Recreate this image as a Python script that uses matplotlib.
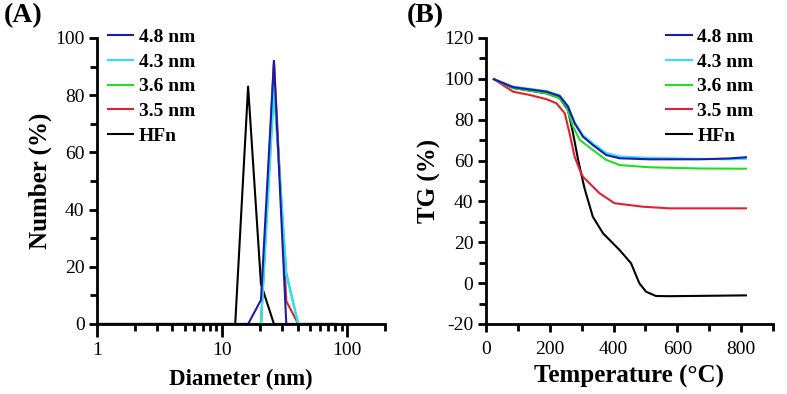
import numpy as np
import matplotlib
matplotlib.use('Agg')
import matplotlib.pyplot as plt
from matplotlib.ticker import MultipleLocator, LogLocator, FuncFormatter, NullFormatter

matplotlib.rcParams.update({'font.family': 'Liberation Serif', 'font.size': 14,
                            'axes.unicode_minus': False})

labels = ['4.8 nm', '4.3 nm', '3.6 nm', '3.5 nm', 'HFn']
colors = ['#1c1ca8', '#30e0ff', '#22dd22', '#e02030', '#000000']

# (A) number distribution, diameter bins (nm)
diam = [1.0, 12.7, 16.1, 20.4, 25.9, 32.5, 40.5, 82.0]
num_48 = [0, 0, 0, 8.4, 92, 0, 0, 0]
num_43 = [0, 0, 0, 0, 83, 17, 0, 0]
num_36 = [0, 0, 0, 0, 82, 18, 0, 0]
num_35 = [0, 0, 0, 0, 92, 8, 0, 0]
num_hfn = [0, 0, 83, 14, 0, 0, 0, 0]

# (B) TGA curves, temperature (C) / weight (%)
t_48 = [25, 85, 190, 231, 257, 278, 304, 335, 377, 419, 512, 669, 760, 815]
tg_48 = [99.8, 95.9, 93.7, 91.6, 86.4, 78.2, 71.7, 67.6, 62.7, 61.1, 60.6, 60.6, 61.0, 61.6]
t_43 = [25, 85, 190, 231, 257, 278, 304, 335, 377, 419, 512, 669, 760, 815]
tg_43 = [99.8, 96.2, 94.0, 91.9, 86.8, 78.8, 72.4, 68.4, 63.7, 62.0, 61.3, 60.8, 60.6, 60.8]
t_36 = [25, 85, 190, 231, 252, 273, 294, 335, 377, 419, 512, 669, 815]
tg_36 = [99.8, 95.5, 92.9, 90.5, 86.4, 76.6, 70.1, 65.2, 60.3, 57.8, 56.7, 56.1, 56.0]
t_35 = [25, 85, 137, 190, 221, 247, 262, 278, 294, 304, 356, 403, 492, 575, 815]
tg_35 = [99.8, 93.7, 92.1, 90.0, 88.0, 83.1, 73.4, 61.9, 55.4, 52.1, 44.0, 39.1, 37.4, 36.6, 36.6]
t_hfn = [25, 85, 190, 231, 257, 273, 289, 309, 335, 367, 419, 455, 481, 502, 533, 575, 815]
tg_hfn = [99.8, 95.5, 92.9, 90.6, 84.8, 73.4, 60.3, 46.4, 32.5, 24.4, 16.2, 9.7, -0.1, -4.2, -6.3, -6.4, -6.0]

fig = plt.figure(figsize=(7.87, 3.94), dpi=100)
ax1 = fig.add_axes([0.1233, 0.1777, 0.366, 0.726])
ax2 = fig.add_axes([0.6175, 0.1777, 0.3647, 0.726])

def style(ax):
    for s in ['top', 'right']:
        ax.spines[s].set_visible(False)
    for s in ['left', 'bottom']:
        ax.spines[s].set_linewidth(2)
    ax.tick_params(which='major', length=6, width=2, labelsize=14, pad=3)
    ax.tick_params(which='minor', length=5, width=2)
    ax.tick_params(axis='x', which='major', pad=6)

# left panel
ys = [num_48, num_43, num_36, num_35, num_hfn]
for i in [4, 3, 2, 1, 0]:
    ax1.plot(diam, ys[i], color=colors[i], lw=1.5, label=labels[i])
ax1.set_xscale('log')
ax1.set_xlim(1, 200)
ax1.set_ylim(0, 100)
ax1.xaxis.set_major_locator(LogLocator(base=10))
ax1.xaxis.set_minor_locator(LogLocator(base=10, subs=np.arange(2, 10)))
ax1.xaxis.set_major_formatter(FuncFormatter(lambda v, p: '%g' % v))
ax1.xaxis.set_minor_formatter(NullFormatter())
ax1.yaxis.set_major_locator(MultipleLocator(20))
ax1.yaxis.set_minor_locator(MultipleLocator(10))
style(ax1)
ax1.tick_params(axis='x', which='major', length=9, pad=4)
ax1.set_xlabel('Diameter (nm)', fontsize=16.5, fontweight='bold', labelpad=7)
ax1.set_ylabel('Number (%)', fontsize=18, fontweight='bold', labelpad=2)
h, l = ax1.get_legend_handles_labels()
ax1.legend(h[::-1], l[::-1], loc='upper left', bbox_to_anchor=(0.01, 1.06), frameon=False,
           prop={'weight': 'bold', 'size': 14}, handlelength=1.3, handletextpad=0.3,
           labelspacing=0.36, borderaxespad=0)

# right panel
ts = [t_48, t_43, t_36, t_35, t_hfn]
tgs = [tg_48, tg_43, tg_36, tg_35, tg_hfn]
for i in [4, 3, 2, 1, 0]:
    ax2.plot(ts[i], tgs[i], color=colors[i], lw=1.5, label=labels[i])
ax2.set_xlim(0, 900)
ax2.set_ylim(-20, 120)
ax2.xaxis.set_major_locator(MultipleLocator(200))
ax2.xaxis.set_minor_locator(MultipleLocator(100))
ax2.yaxis.set_major_locator(MultipleLocator(20))
ax2.yaxis.set_minor_locator(MultipleLocator(10))
style(ax2)
ax2.set_xlabel('Temperature (\u00b0C)', fontsize=18, fontweight='bold', labelpad=5)
ax2.set_ylabel('TG (%)', fontsize=18, fontweight='bold', labelpad=2)
h, l = ax2.get_legend_handles_labels()
ax2.legend(h[::-1], l[::-1], loc='upper right', bbox_to_anchor=(0.96, 1.06), frameon=False,
           prop={'weight': 'bold', 'size': 14}, handlelength=1.3, handletextpad=0.3,
           labelspacing=0.36, borderaxespad=0)

fig.text(0.005, 0.945, '(A)', fontsize=20, fontweight='bold')
fig.text(0.517, 0.945, '(B)', fontsize=20, fontweight='bold')

fig.savefig('out.png', dpi=100)
